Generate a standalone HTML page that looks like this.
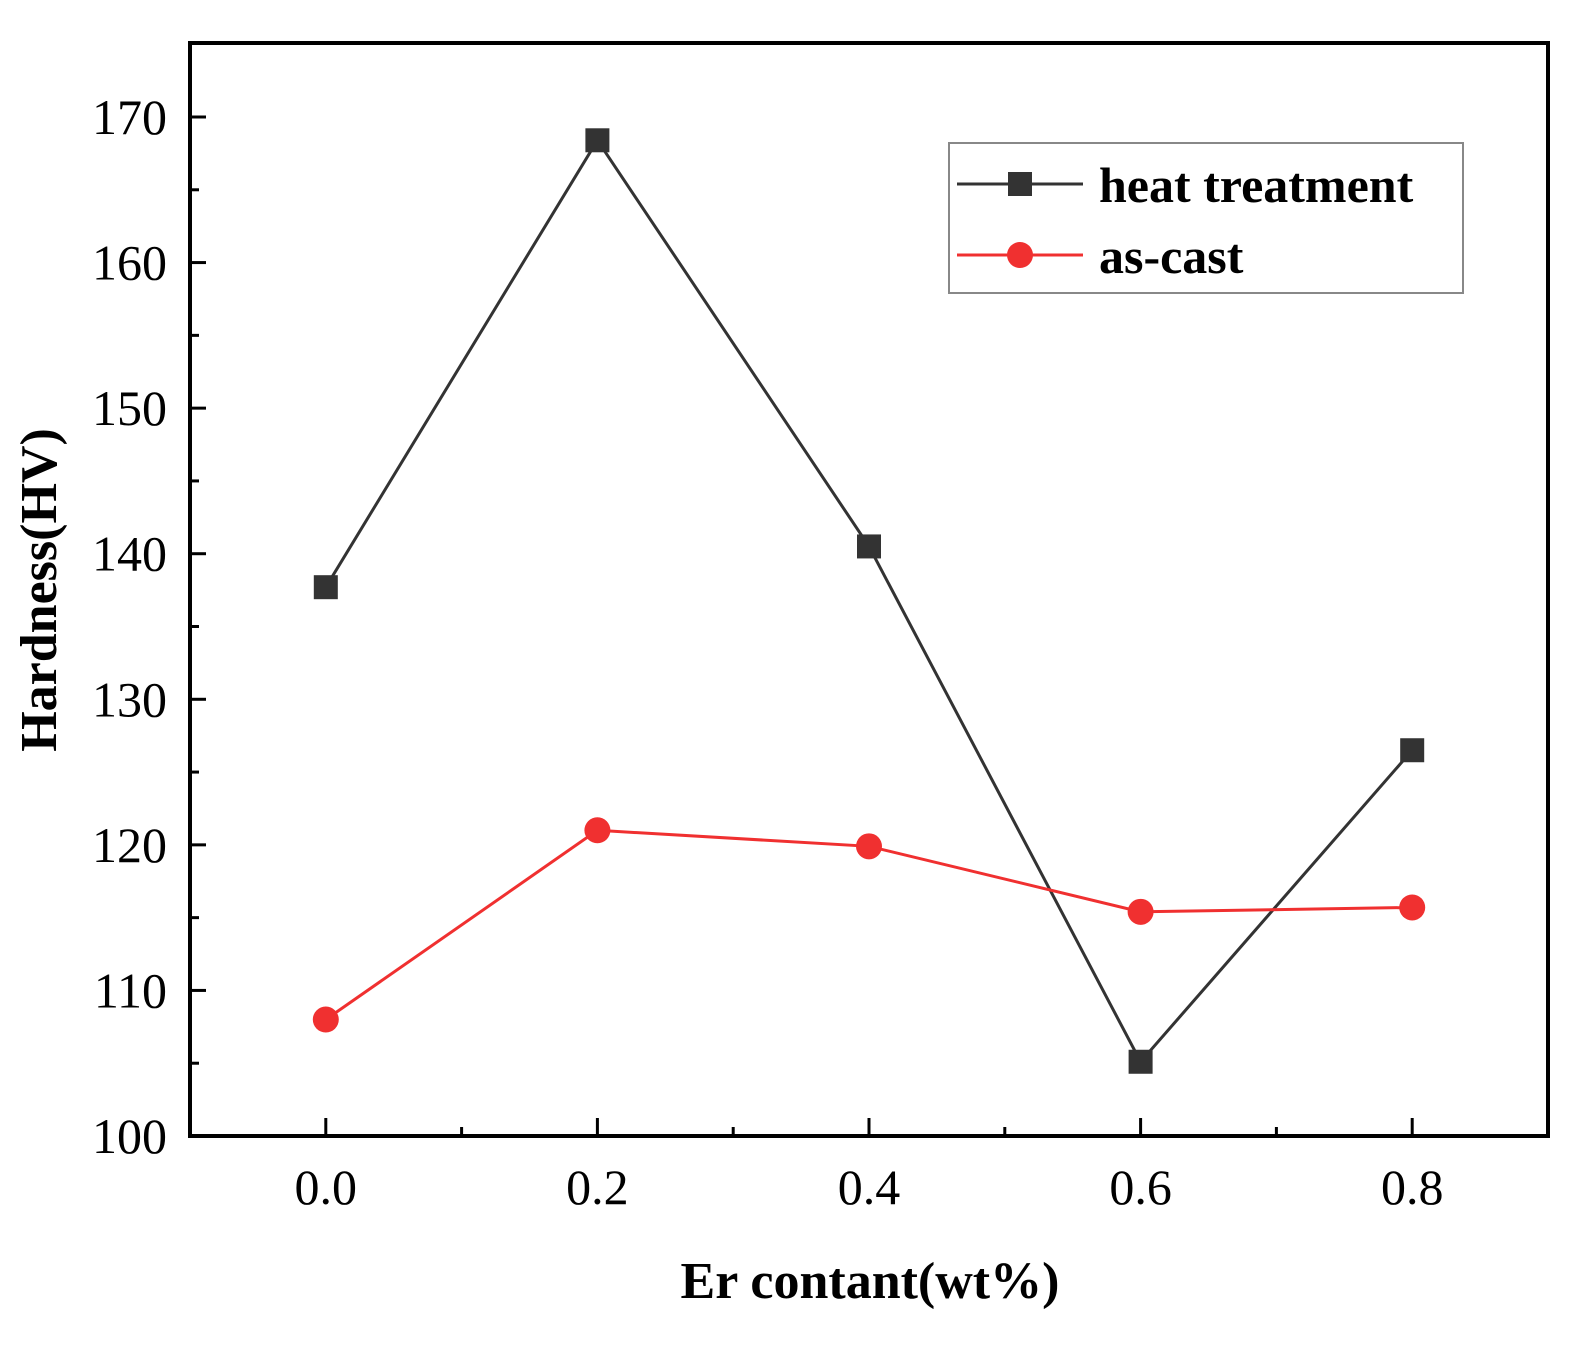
<!DOCTYPE html>
<html><head><meta charset="utf-8"><style>
html,body{margin:0;padding:0;background:#fff;}
svg{display:block;}
text{font-family:"Liberation Serif",serif;}
</style></head><body>
<svg id="chart" width="1579" height="1353">
<g id="axes"></g><g id="series"></g>
<g>
<rect x="949" y="143" width="514" height="150" fill="#fff" stroke="#888" stroke-width="2"/>
<g>
<line x1="957" y1="184" x2="1083" y2="184" stroke="#333" stroke-width="3"/>
<rect x="1008" y="172" width="24" height="24" fill="#333"/>
<text x="1099" y="202" font-size="50" font-weight="bold">heat treatment</text></g>
<g>
<line x1="957" y1="255" x2="1083" y2="255" stroke="#f03030" stroke-width="3"/>
<circle cx="1020" cy="255" r="13" fill="#f03030"/>
<text x="1099" y="273" font-size="50" font-weight="bold">as-cast</text></g>
</g>
<text x="870" y="1298" font-size="52" font-weight="bold" text-anchor="middle">Er contant(wt%)</text>
<text transform="translate(56,590) rotate(-90)" font-size="52" font-weight="bold" text-anchor="middle">Hardness(HV)</text>
</svg>
<script>
const xCats=[0.0,0.2,0.4,0.6,0.8];
const heat=[137.7,168.4,140.5,105.1,126.5];
const asCast=[108.0,121.0,119.9,115.4,115.7];
const yTicks=[100,110,120,130,140,150,160,170];
const xTickLabels=["0.0","0.2","0.4","0.6","0.8"];
const L=190,R=1548,T=43,B=1136;
const xs=v=>L+(v+0.1)/1.0*(R-L);
const ys=v=>B-(v-100)/70*(B-117);
const NS="http://www.w3.org/2000/svg";
function mk(p,tag,a){const e=document.createElementNS(NS,tag);for(const k in a)e.setAttribute(k,a[k]);p.appendChild(e);return e;}
const ax=document.getElementById('axes');
const fr=mk(ax,'rect',{x:L,y:T,width:R-L,height:B-T,fill:'none',stroke:'#000','stroke-width':4});


yTicks.forEach(v=>{
 mk(ax,'line',{x1:L,x2:L+16,y1:ys(v),y2:ys(v),stroke:'#000','stroke-width':3});
 if(v<170) mk(ax,'line',{x1:L,x2:L+9,y1:ys(v+5),y2:ys(v+5),stroke:'#000','stroke-width':3});
 const t=mk(ax,'text',{x:167,y:ys(v)+17,'font-size':50,'text-anchor':'end'});
 t.textContent=v;
 
 
});
xCats.forEach((v,i)=>{
 mk(ax,'line',{x1:xs(v),x2:xs(v),y1:B,y2:B-18,stroke:'#000','stroke-width':3});
 mk(ax,'line',{x1:xs(v+0.1),x2:xs(v+0.1),y1:B,y2:B-9,stroke:'#000','stroke-width':3});
 const t=mk(ax,'text',{x:xs(v),y:1204,'font-size':50,'text-anchor':'middle'});
 t.textContent=xTickLabels[i];
 
 
});
const sg=document.getElementById('series');
function line(vals,color,name,marker){
 const g=mk(sg,'g',{});
 
 
 mk(g,'polyline',{points:vals.map((v,i)=>xs(xCats[i])+','+ys(v)).join(' '),fill:'none',stroke:color,'stroke-width':3});
 vals.forEach((v,i)=>{
  let m;
  if(marker==='sq') m=mk(g,'rect',{x:xs(xCats[i])-12,y:ys(v)-12,width:24,height:24,fill:color});
  else m=mk(g,'circle',{cx:xs(xCats[i]),cy:ys(v),r:13,fill:color});
  
  
 });
}
line(heat,'#333','series-heat-treatment','sq');
line(asCast,'#f03030','series-as-cast','ci');
</script>
</body></html>
